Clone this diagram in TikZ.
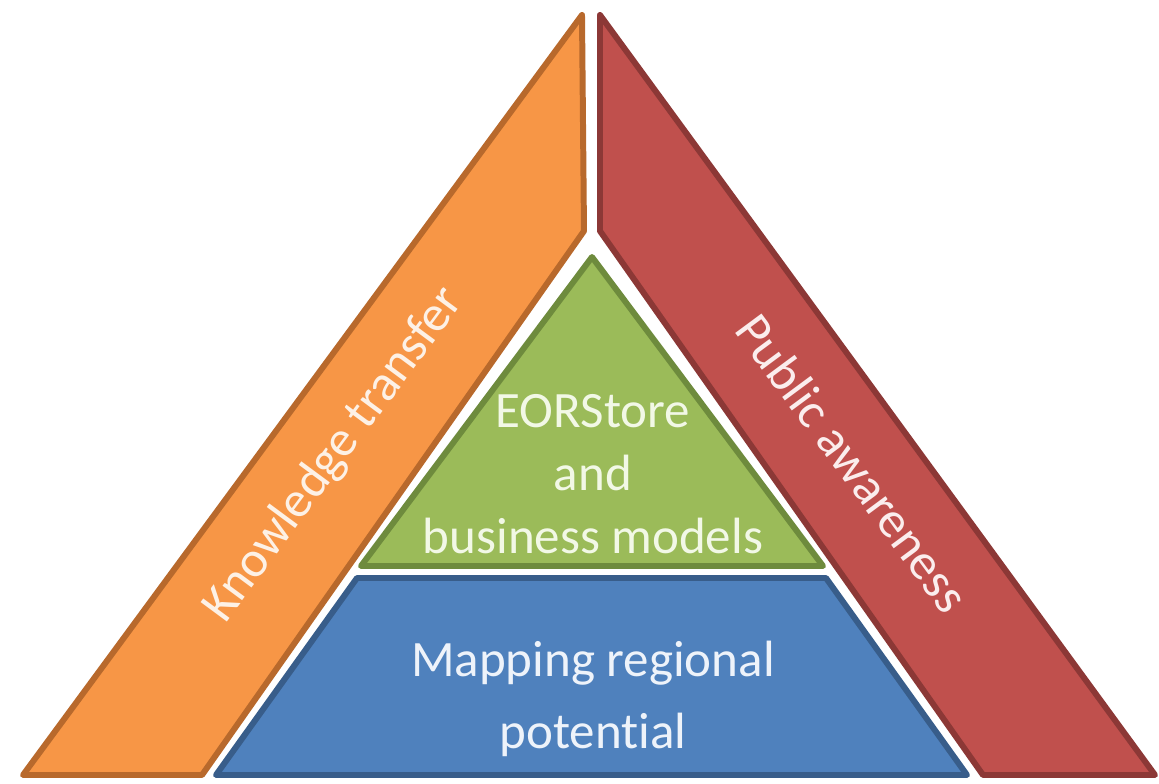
\documentclass[tikz,border=0pt]{standalone}
\usepackage{fontspec}
\setmainfont{Carlito}[Ligatures=NoCommon]

\definecolor{orangefond}{HTML}{F79646}
\definecolor{orangebord}{HTML}{B8692C}
\definecolor{rougefond}{HTML}{C0504D}
\definecolor{rougebord}{HTML}{8C3836}
\definecolor{vertfond}{HTML}{9BBB59}
\definecolor{vertbord}{HTML}{6E8B3D}
\definecolor{bleufond}{HTML}{4F81BD}
\definecolor{bleubord}{HTML}{385D8A}
\definecolor{textevert}{HTML}{F2F8E6}
\definecolor{textebleu}{HTML}{EEF3FA}
\definecolor{texteorange}{HTML}{FDF1E6}
\definecolor{texterouge}{HTML}{FBEDED}

\begin{document}
\begin{tikzpicture}[x=0.01cm, y=-0.01cm]
  \tikzstyle{bloc}=[line width=1.7pt, line join=round];
  \tikzstyle{texte}=[font=\fontsize{14.5}{17.9}\selectfont, align=center, inner sep=0];

  \useasboundingbox (0,0) rectangle (1159,784);

  % bande gauche
  \coordinate (KA) at (23,775);
  \coordinate (KB) at (582,15);
  \coordinate (KC) at (584,231);
  \coordinate (KD) at (202,775);

  % bande droite
  \coordinate (PA) at (600,15);
  \coordinate (PB) at (1155,775);
  \coordinate (PC) at (983,775);
  \coordinate (PD) at (600,231);

  % triangle central
  \coordinate (EA) at (592,257);
  \coordinate (EB) at (823,566);
  \coordinate (EC) at (361,566);

  % trapeze du bas
  \coordinate (MA) at (357,578);
  \coordinate (MB) at (826,578);
  \coordinate (MC) at (967,775);
  \coordinate (MD) at (216,775);

  \draw[bloc, fill=orangefond, draw=orangebord] (KA) -- (KB) -- (KC) -- (KD) -- cycle;
  \draw[bloc, fill=rougefond, draw=rougebord] (PA) -- (PB) -- (PC) -- (PD) -- cycle;
  \draw[bloc, fill=vertfond, draw=vertbord] (EA) -- (EB) -- (EC) -- cycle;
  \draw[bloc, fill=bleufond, draw=bleubord] (MA) -- (MB) -- (MC) -- (MD) -- cycle;

  \node[texte, text=textevert] (eorstore) at (593,474) {EORStore\\and\\business models};
  \node[texte, text=textebleu, font=\fontsize{14.5}{20.5}\selectfont] (mapping) at (593,699) {Mapping regional\\potential};
  \node[texte, text=texteorange, rotate=53.5] (knowledge) at (334,455) {Knowledge transfer};
  \node[texte, text=texterouge, rotate=-53.5] (public) at (853,463) {Public awareness};
\end{tikzpicture}
\end{document}
